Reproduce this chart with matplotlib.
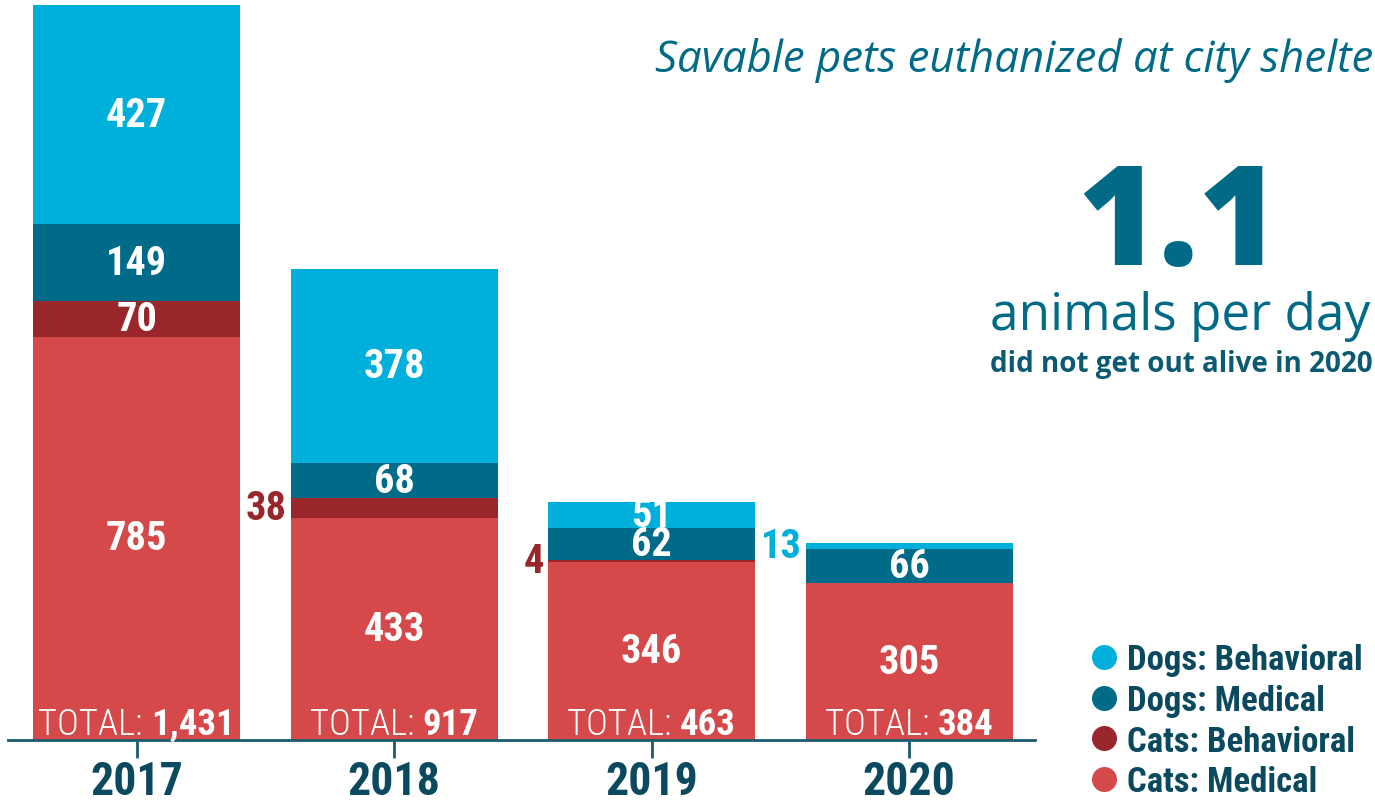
import matplotlib.pyplot as plt
import numpy as np
from matplotlib.lines import Line2D

# Data
years = ["2017", "2018", "2019", "2020"]
cats_medical = [785, 433, 346, 305]
cats_behavioral = [70, 38, 4, 0]
dogs_medical = [149, 68, 62, 66]
dogs_behavioral = [427, 378, 51, 13]

series_names = ["Cats: Medical", "Cats: Behavioral", "Dogs: Medical", "Dogs: Behavioral"]
series_vals = [cats_medical, cats_behavioral, dogs_medical, dogs_behavioral]
series_colors = ["#D5494A", "#98262A", "#006B88", "#00B0DB"]

COND = ["Roboto Condensed", "Liberation Sans Narrow", "Roboto", "DejaVu Sans"]
OPEN = ["Open Sans", "DejaVu Sans"]
DARK = "#0B4A5E"
TEAL = "#006A87"

fig = plt.figure(figsize=(13.75, 8.03), dpi=100)
ax = fig.add_axes([8 / 1375, 62 / 803, 1027 / 1375, 735 / 803])

x = np.arange(len(years))
totals = np.sum(series_vals, axis=0)
bottom = np.zeros(len(years))
for name, vals, col in zip(series_names, series_vals, series_colors):
    vals = np.array(vals, dtype=float)
    ax.bar(x, vals, width=0.804, bottom=bottom, color=col, linewidth=0)
    for xi, v, b in zip(x, vals, bottom):
        if v == 0:
            continue
        yc = b + v / 2
        if v >= 45:
            ax.text(xi, yc, f"{int(v)}", ha="center", va="center", color="white",
                    fontsize=29, fontweight="bold", family=COND)
        else:
            ax.annotate(f"{int(v)}", xy=(xi - 0.402, yc), xytext=(-3, 0),
                        textcoords="offset points", ha="right", va="center",
                        color=col, fontsize=29, fontweight="bold", family=COND)
    bottom += vals

# TOTAL labels at the bottom of each bar
fig.canvas.draw()
rend = fig.canvas.get_renderer()
for xi, t in zip(x, totals):
    t1 = ax.annotate("TOTAL: ", xy=(xi, 0), xytext=(0, 4.5), textcoords="offset points",
                     ha="right", va="baseline", color="white", fontsize=26.5,
                     fontweight="light", family=COND)
    t2 = ax.annotate(f"{t:,}", xy=(xi, 0), xytext=(0, 4.5), textcoords="offset points",
                     ha="left", va="baseline", color="white", fontsize=26.5,
                     fontweight="bold", family=COND)
    w1 = t1.get_window_extent(rend).width
    w2 = t2.get_window_extent(rend).width
    shift = (w1 - w2) / 2 * 72 / fig.dpi
    t1.xyann = (shift, 4.5)
    t2.xyann = (shift, 4.5)

ax.set_xlim(-0.5, 3.489)
ax.set_ylim(0, 1431)
for s in ["top", "right", "left"]:
    ax.spines[s].set_visible(False)
ax.spines["bottom"].set_color("#1D5B6E")
ax.spines["bottom"].set_linewidth(2)
ax.set_yticks([])
ax.set_xticks(x, years)
ax.tick_params(axis="x", length=13, width=2, color="#1D5B6E", pad=1,
               labelsize=33, labelcolor=DARK)
for lab in ax.get_xticklabels():
    lab.set_fontweight("bold")
    lab.set_family(COND)

# Text block on the right
fig.text(1373 / 1375, 1 - 72 / 803, "Savable pets euthanized at city shelte", ha="right",
         va="baseline", fontsize=31.5, style="italic", color=TEAL, family=OPEN)
fig.text(1179 / 1375, 1 - 265 / 803, "1.1", ha="center", va="baseline", fontsize=100,
         fontweight="heavy", color=TEAL, family=OPEN)
fig.text(1370 / 1375, 1 - 330 / 803, "animals per day", ha="right", va="baseline",
         fontsize=37, color=TEAL, family=OPEN)
fig.text(1373 / 1375, 1 - 372 / 803, "did not get out alive in 2020", ha="right",
         va="baseline", fontsize=20, fontweight="bold", color="#0B5A72", family=OPEN)

# Legend
handles = [Line2D([], [], marker="o", linestyle="none", markersize=18,
                  markerfacecolor=c, markeredgewidth=0)
           for c in series_colors[::-1]]
leg = fig.legend(handles, series_names[::-1], loc="upper left",
                 bbox_to_anchor=(1073 / 1375, 1 - 627 / 803), frameon=False,
                 handlelength=0.8, handletextpad=0.25, labelspacing=0.22, borderpad=0,
                 prop={"family": COND, "weight": "bold", "size": 25})
for txt in leg.get_texts():
    txt.set_color(DARK)

fig.savefig("out.png", dpi=100)
